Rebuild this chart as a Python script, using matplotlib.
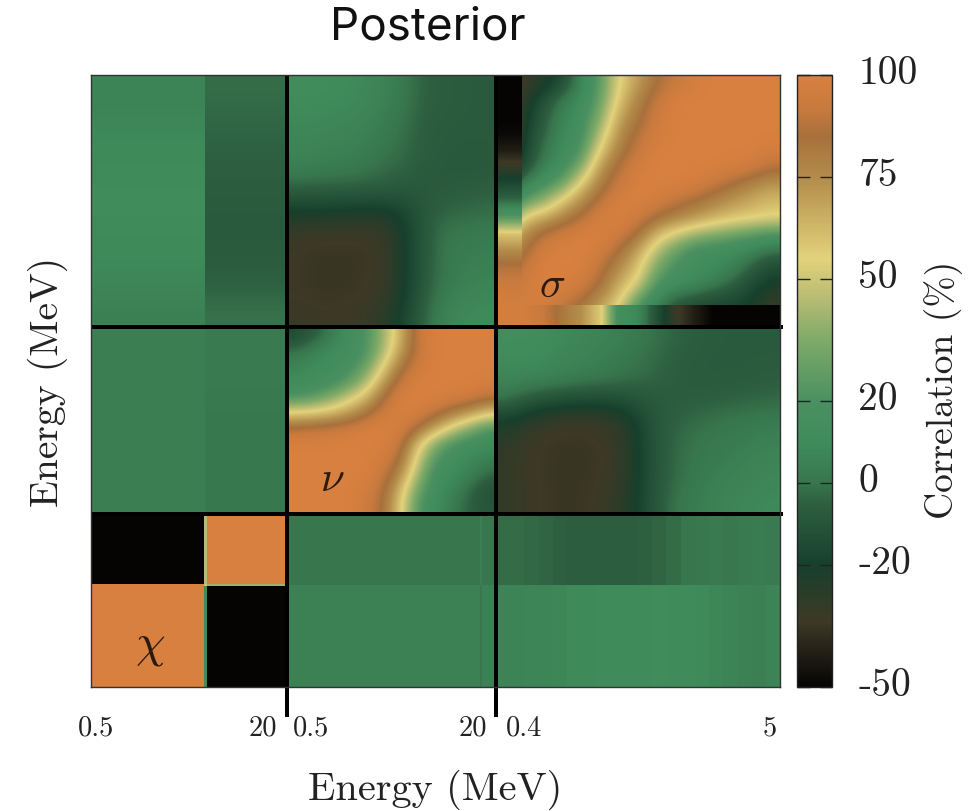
import numpy as np
import matplotlib
matplotlib.use("Agg")
import matplotlib.pyplot as plt
from matplotlib.colors import LinearSegmentedColormap, Normalize
from matplotlib.cm import ScalarMappable
from matplotlib.transforms import ScaledTranslation

# --- data (correlation %, rows listed from top to bottom) ---
cmap_values = [-50, -34, -20, -5, 0, 10, 20, 35, 45, 55, 75, 85, 92, 100]
cmap_colors = ["#050403", "#3d3926", "#17402c", "#2e5f40", "#38764e", "#3f8c5a", "#4a9060",
               "#7eaa68", "#b5bb72", "#e3d27c", "#b38c4a", "#a8703c", "#c87a3e", "#d8803f"]

sigma_sigma = [
    [-50,-32,-25,-14,6,25,55,70,85,92,98,100,100,100,100],
    [-50,-26,-12,2,10,28,60,78,92,100,100,100,100,100,100],
    [-50,-22,-8,6,14,35,68,82,95,100,100,100,100,100,100],
    [-48,-20,-4,8,16,45,75,88,97,100,100,100,100,100,100],
    [-42,-18,0,10,20,58,80,92,100,100,100,100,100,100,97],
    [-30,-12,4,15,35,72,88,98,100,100,100,100,98,95,88],
    [-15,4,18,30,58,80,93,100,100,100,98,92,85,78,72],
    [-2,28,38,58,75,90,100,100,97,90,85,78,72,66,62],
    [25,60,66,78,88,98,100,95,85,78,72,65,60,58,55],
    [58,74,90,95,100,100,95,85,62,50,40,35,30,25,20],
    [68,84,98,100,100,97,85,68,45,28,15,12,10,5,-2],
    [80,92,100,100,100,90,75,60,32,18,12,10,5,-5,-15],
    [88,96,100,100,95,85,65,52,20,12,8,2,-5,-15,-22],
    [94,98,98,92,85,72,58,25,5,-8,-12,-15,-17,-20,-30],
    [98,98,95,88,78,66,45,15,0,-10,-14,-16,-18,-22,-32],
]
sigma_left_strip = [[-50],[-50],[-50],[-48],[-42],[-30],[-15],[-2],[25],[60],[76],[88],[94],[97],[99]]
sigma_bottom_strip = [[98,97,92,82,74,58,15,8,-12,-32,-42,-50,-50,-50,-50]]
nu_nu = [
    [-15,-8,2,12,20,40,65,93,100,100,100,100],
    [-2,4,10,14,20,42,70,92,100,100,100,100],
    [6,10,12,16,28,55,82,95,100,100,100,100],
    [10,12,15,25,42,70,92,100,100,100,100,98],
    [20,25,35,48,62,85,100,100,100,98,95,90],
    [56,58,62,70,82,95,100,98,90,80,72,60],
    [88,90,92,95,100,100,98,85,68,50,35,22],
    [100,100,100,100,100,100,92,60,35,20,14,10],
    [100,100,100,100,100,97,85,50,22,12,8,4],
    [100,100,100,100,100,92,75,40,14,10,4,-4],
    [100,100,100,100,97,88,62,30,12,6,-4,-12],
    [100,100,100,100,95,85,58,22,10,2,-6,-10],
]
nu_sigma = [
    [12,12,11,9,6,2,-5,-6,-7,-7],
    [10,10,9,8,5,1,-5,-6,-7,-7],
    [8,8,7,6,3,-1,-6,-7,-7,-7],
    [7,6,5,4,1,-2,-6,-7,-8,-8],
    [4,3,2,1,-2,-4,-7,-8,-8,-8],
    [-6,-6,-6,-6,-7,-8,-8,-7,-6,-5],
    [-20,-20,-21,-22,-22,-18,-8,-4,-3,-2],
    [-32,-33,-33,-33,-32,-22,-8,0,1,2],
    [-34,-35,-35,-35,-33,-22,-8,1,3,4],
    [-34,-35,-35,-35,-33,-22,-8,1,4,5],
    [-34,-35,-35,-34,-32,-22,-6,3,6,8],
    [-32,-33,-33,-32,-28,-18,-4,6,9,10],
]
sigma_nu = [
    [13,13,10,8,6,4,0,-4,-6,-7,-7,-7],
    [11,11,8,6,4,1,-2,-5,-7,-7,-7,-7],
    [7,6,5,3,1,-1,-3,-6,-7,-7,-7,-6],
    [0,-8,-12,-14,-14,-12,-8,-6,-6,-5,-4,-3],
    [-20,-28,-32,-33,-32,-26,-10,-5,-2,0,1,2],
    [-28,-33,-35,-35,-34,-28,-12,-3,0,2,3,5],
    [-30,-34,-35,-35,-35,-28,-12,-3,1,3,5,7],
    [-30,-33,-35,-35,-34,-28,-12,-2,2,5,6,8],
    [-30,-33,-35,-35,-33,-26,-12,0,3,6,8,9],
]
chi1_sigma = [[6],[7],[9],[10],[11],[11],[10],[9],[7],[5]]
chi2_sigma = [[-2],[-3],[-4],[-5],[-6],[-7],[-7],[-6],[-4],[-1]]
chi1_nu = [[4],[4],[4],[4],[4]]
chi2_nu = [[2],[2],[1],[1],[1]]
chi_chi = [
    [-50,45,100],
    [100,60,40],
    [100,10,-50],
]
nu_chi = [[0,4,0],[5,1,5]]
sigma_chi = [
    [-2,-2,-3,-4,-5,-6,-6,-6,-6,-6,-5,-4,-2,0,1,2,1,2,3,2],
    [6,6,7,7,8,9,9,10,10,10,10,11,10,10,9,8,6,5,4,6],
]

x_tick_labels = ["0.5", "20", "0.5", "20", "0.4", "5"]
cbar_ticks = [-50, -20, 0, 20, 50, 75, 100]
cbar_labels = ["-50", "-20", "0", "20", "50", "75", "100"]

# --- layout helpers ---
W, H = 980, 811
L, R, T, B = 91, 780, 75, 687
xe = [0, 114, 196, 405, 689]       # block edges, x
ye = [0, 102, 173, 360, 612]       # block edges, y

stops = [(v + 50) / 150 for v in cmap_values]
cmap = LinearSegmentedColormap.from_list("corr", list(zip(stops, cmap_colors)), N=512)
norm = Normalize(-50, 100)

plt.rcParams["mathtext.fontset"] = "cm"
fig = plt.figure(figsize=(W / 100, H / 100), dpi=100)
ax = fig.add_axes([L / W, 1 - B / H, (R - L) / W, (B - T) / H])

def smooth(Z, x0, x1, y0, y1, interp="bicubic"):
    ax.imshow(np.array(Z, float), extent=(x0, x1, y0, y1), origin="upper", cmap=cmap, norm=norm,
              aspect="auto", interpolation=interp, interpolation_stage="data")

smooth(sigma_sigma, xe[3], xe[4], ye[3], ye[4])
smooth(sigma_left_strip, xe[3], xe[3] + 26, ye[3], ye[4], "bilinear")
smooth(sigma_bottom_strip, xe[3], xe[4], ye[3], ye[3] + 22, "bilinear")
smooth(nu_nu, xe[2], xe[3], ye[2], ye[3])
smooth(nu_sigma, xe[2], xe[3], ye[3], ye[4])
smooth(sigma_nu, xe[3], xe[4], ye[2], ye[3])
smooth(chi1_sigma, xe[0], xe[1], ye[3], ye[4], "bilinear")
smooth(chi2_sigma, xe[1], xe[2], ye[3], ye[4], "bilinear")
smooth(chi1_nu, xe[0], xe[1], ye[2], ye[3], "bilinear")
smooth(chi2_nu, xe[1], xe[2], ye[2], ye[3], "bilinear")

# sharp-edged blocks
ax.pcolormesh([0, 113, 116, 196], [0, 101, 103, 173], np.array(chi_chi[::-1], float),
              cmap=cmap, norm=norm, shading="flat")
ax.pcolormesh([196, 389, 391, 405], [0, 102, 173], np.array(nu_chi[::-1], float),
              cmap=cmap, norm=norm, shading="flat")
ax.pcolormesh(np.linspace(405, 689, len(sigma_chi[0]) + 1), [0, 102, 173],
              np.array(sigma_chi[::-1], float), cmap=cmap, norm=norm, shading="flat")

ax.set_xticks([5, 172, 220, 382, 433, 679])
ax.set_xticklabels(x_tick_labels, family="cmr10", fontsize=20.5, color="#222222")
ax.set_yticks([])
ax.tick_params(axis="x", length=0, pad=20)
for s in ax.spines.values():
    s.set_linewidth(1.0)
    s.set_color("#333333")

lw = 4 * 72 / 100
for x in (xe[2], xe[3]):
    ax.plot([x, x], [612, -30], color="black", lw=lw, clip_on=False, solid_capstyle="butt")
for y in (ye[2], ye[3]):
    ax.plot([0, 692], [y, y], color="black", lw=lw, clip_on=False, solid_capstyle="butt")
ax.set_xlim(0, 689)
ax.set_ylim(0, 612)

ax.text(59, 42, r"$\chi$", fontsize=34, color="#2a1a10", ha="center", va="center")
ax.text(241, 208, r"$\nu$", fontsize=31, color="#2a1a10", ha="center", va="center")
ax.text(461, 402, r"$\sigma$", fontsize=31, color="#2a1a10", ha="center", va="center")

# colour bar
cax = fig.add_axes([797 / W, 1 - B / H, 35 / W, (B - T) / H])
cb = fig.colorbar(ScalarMappable(norm=norm, cmap=cmap), cax=cax)
cb.set_ticks(cbar_ticks)
cb.set_ticklabels(cbar_labels)
cax.tick_params(direction="in", left=True, right=True, length=9, width=1, color="#222222",
                labelsize=28.5, labelcolor="#222222", pad=19)
shift = ScaledTranslation(0, 5 / 100, fig.dpi_scale_trans)
for lab in cax.get_yticklabels():
    lab.set_family("cmr10")
    lab.set_transform(lab.get_transform() + shift)
cb.outline.set_linewidth(1.0)
cb.outline.set_edgecolor("#222222")

fig.text(435 / W, 1 - 800 / H, "Energy (MeV)", family="cmr10", fontsize=29, color="#222222",
         ha="center", va="baseline")
fig.text(28 / W, 1 - 382 / H, "Energy (MeV)", family="cmr10", fontsize=28.5, color="#222222",
         rotation=90, ha="left", va="center")
fig.text(924 / W, 1 - 390 / H, "Correlation (%)", family="cmr10", fontsize=27, color="#222222",
         rotation=90, ha="left", va="center")
fig.text(428 / W, 1 - 40 / H, "Posterior", family="Inter", fontsize=33, color="#111111",
         ha="center", va="baseline")

fig.savefig("out.png", dpi=100)
